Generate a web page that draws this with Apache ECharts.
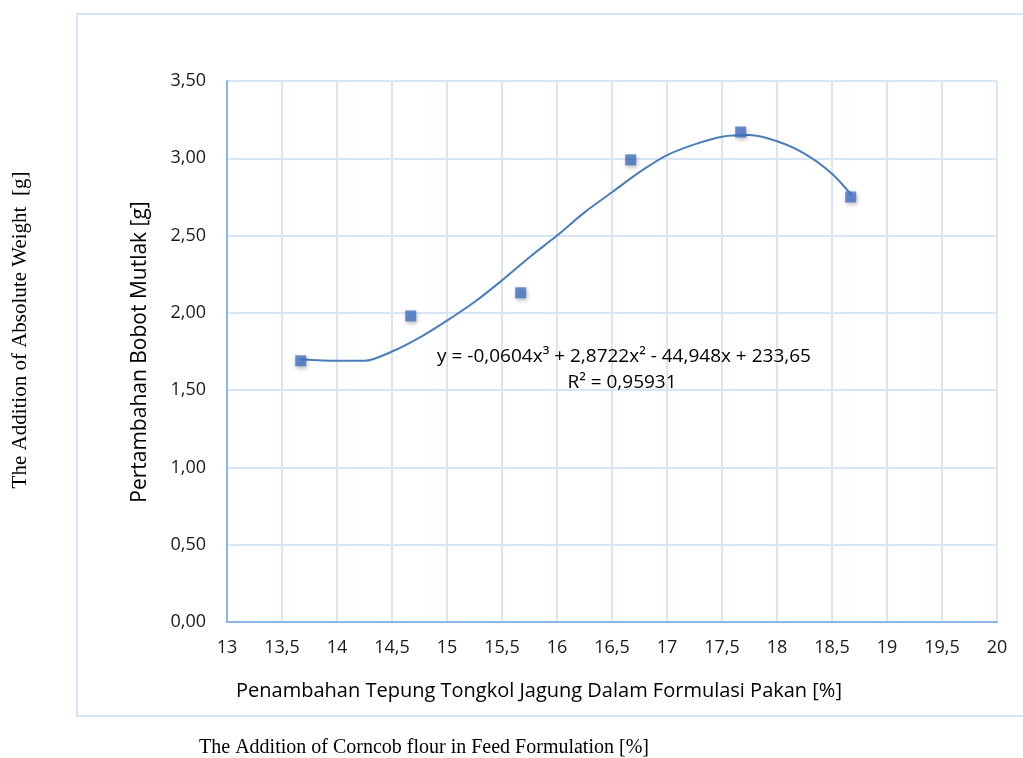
<!DOCTYPE html>
<html>
<head>
<meta charset="utf-8">
<script src="https://cdn.jsdelivr.net/npm/echarts@6/dist/echarts.min.js"></script>
<style>
  html, body { margin: 0; padding: 0; background: #ffffff; }
  #chart { width: 1023px; height: 758px; }
</style>
</head>
<body>
<div id="chart"></div>
<script>
// Observed weight gain per corncob flour level
const cornFlourPct = [13.67, 14.67, 15.67, 16.67, 17.67, 18.67];
const weightGain = [1.69, 1.98, 2.13, 2.99, 3.17, 2.75];

// Polynomial (order 3) trend line, sampled along its drawn path
const trendX = [13.67, 14.0, 14.25, 14.5, 14.75, 15.0, 15.25, 15.5, 15.75, 16.0, 16.25, 16.5, 16.75, 17.0, 17.25, 17.5, 17.75, 18.0, 18.25, 18.5, 18.68];
const trendY = [1.70, 1.69, 1.69, 1.75, 1.84, 1.95, 2.07, 2.21, 2.36, 2.50, 2.65, 2.78, 2.91, 3.02, 3.09, 3.14, 3.15, 3.11, 3.03, 2.90, 2.76];

const trendEquation = 'y = -0,0604x\u00B3 + 2,8722x\u00B2 - 44,948x + 233,65';
const trendR2 = 'R\u00B2 = 0,95931';

const yAxisTitle = 'Pertambahan Bobot Mutlak [g]';
const xAxisTitle = 'Penambahan Tepung Tongkol Jagung Dalam Formulasi Pakan [%]';
const outerYTitle = 'The Addition of Absolute Weight  [g]';
const outerXTitle = 'The Addition of Corncob flour in Feed Formulation [%]';

const sans = '"Open Sans", "Noto Sans", sans-serif';
const serif = '"Liberation Serif", "DejaVu Serif", serif';

const chart = echarts.init(document.getElementById('chart'), null, { renderer: 'canvas' });

const fmtComma = (v, d) => v.toFixed(d).replace('.', ',');

chart.setOption({
  animation: false,
  backgroundColor: '#ffffff',
  grid: { left: 227, right: 26, top: 81, bottom: 136, containLabel: false },
  xAxis: {
    type: 'value',
    min: 13, max: 20, interval: 0.5,
    axisLine: { show: true, lineStyle: { color: '#8eb4e3', width: 2 } },
    axisTick: { show: false },
    splitLine: { show: true, lineStyle: { color: '#d9e5f4', width: 2 } },
    axisLabel: {
      color: '#1a1a1a', fontFamily: sans, fontSize: 18, margin: 17,
      formatter: v => (Number.isInteger(v) ? String(v) : fmtComma(v, 1))
    }
  },
  yAxis: {
    type: 'value',
    min: 0, max: 3.5, interval: 0.5,
    axisLine: { show: true, lineStyle: { color: '#8eb4e3', width: 2 } },
    axisTick: { show: false },
    splitLine: { show: true, lineStyle: { color: '#d9e5f4', width: 2 } },
    axisLabel: {
      color: '#1a1a1a', fontFamily: sans, fontSize: 18, margin: 21,
      formatter: v => fmtComma(v, 2)
    }
  },
  series: [
    {
      type: 'line',
      data: trendX.map((x, i) => [x, trendY[i]]),
      smooth: 0.3,
      symbol: 'none',
      lineStyle: { color: '#4a7ebb', width: 2 },
      z: 2
    },
    {
      type: 'scatter',
      data: cornFlourPct.map((x, i) => [x, weightGain[i]]),
      symbol: 'rect',
      symbolSize: 11,
      itemStyle: {
        color: '#4472c4',
        shadowColor: 'rgba(0,0,0,0.35)',
        shadowBlur: 4,
        shadowOffsetX: 1,
        shadowOffsetY: 2
      },
      z: 3
    }
  ],
  graphic: [
    {
      type: 'rect',
      shape: { x: 77, y: 14, width: 960, height: 702 },
      style: { fill: 'none', stroke: '#d6e4f5', lineWidth: 2 },
      silent: true, z: 0
    },
    {
      type: 'text',
      x: 624, y: 357,
      style: { text: trendEquation, fill: '#000000', font: '19px ' + sans, textAlign: 'center', textVerticalAlign: 'middle' },
      z: 10
    },
    {
      type: 'text',
      x: 622, y: 383,
      style: { text: trendR2, fill: '#000000', font: '19px ' + sans, textAlign: 'center', textVerticalAlign: 'middle' },
      z: 10
    },
    {
      type: 'text',
      x: 539, y: 691,
      style: { text: xAxisTitle, fill: '#000000', font: '20px ' + sans, textAlign: 'center', textVerticalAlign: 'middle' }
    },
    {
      type: 'text',
      x: 140, y: 352, rotation: Math.PI / 2,
      style: { text: yAxisTitle, fill: '#000000', font: '21px ' + sans, textAlign: 'center', textVerticalAlign: 'middle' }
    },
    {
      type: 'text',
      x: 20, y: 330, rotation: Math.PI / 2,
      style: { text: outerYTitle, fill: '#000000', font: '21px ' + serif, textAlign: 'center', textVerticalAlign: 'middle' }
    },
    {
      type: 'text',
      x: 424, y: 748,
      style: { text: outerXTitle, fill: '#000000', font: '20px ' + serif, textAlign: 'center', textVerticalAlign: 'middle' }
    }
  ]
});
</script>
</body>
</html>
